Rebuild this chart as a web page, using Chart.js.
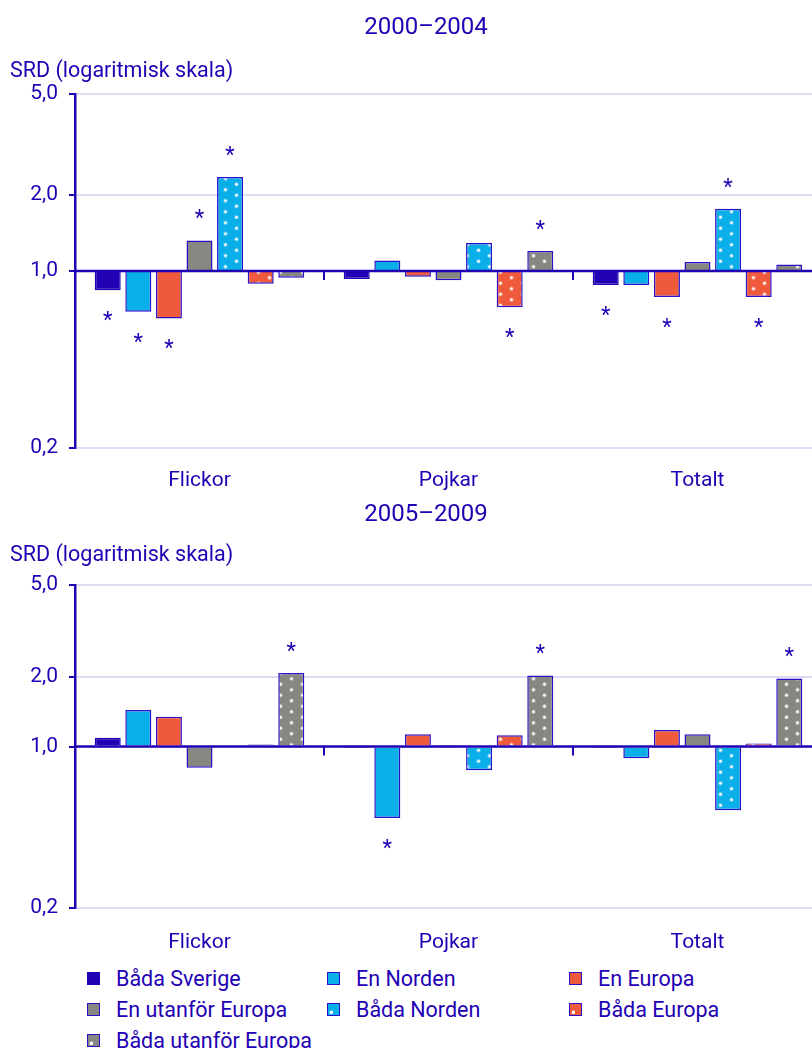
<!DOCTYPE html>
<html>
<head>
<meta charset="utf-8">
<script src="https://cdn.jsdelivr.net/npm/chart.js@4.4.1/dist/chart.umd.min.js"></script>
<style>
  html, body { margin: 0; padding: 0; background: #fff; overflow: hidden; }
  #page { position: relative; width: 812px; height: 1048px; overflow: hidden; font-family: Roboto, sans-serif; color: #2200b4; }
  canvas { position: absolute; left: 0; }
  #c1 { top: 0; }
  #c2 { top: 500px; }
  #legend { position: absolute; left: 87px; top: 963px; display: grid; grid-template-columns: 240px 242px 240px; grid-auto-rows: 31px; }
  .item { display: flex; align-items: center; font-size: 21.5px; white-space: nowrap; }
  .box { width: 11px; height: 11px; border: 1.5px solid #2a10c8; margin-right: 16px; flex: none; }
</style>
</head>
<body>
<div id="page">
  <canvas id="c1" width="852" height="500"></canvas>
  <canvas id="c2" width="852" height="455"></canvas>
  <div id="legend"></div>
</div>
<script>
const categories = ['Flickor', 'Pojkar', 'Totalt'];
const seriesNames = ['Båda Sverige', 'En Norden', 'En Europa', 'En utanför Europa', 'Båda Norden', 'Båda Europa', 'Båda utanför Europa'];
const yTicks = [0.2, 1, 2, 5];

// 2000-2004
const bothSweden1 = [0.84, 0.93, 0.88];
const oneNordic1 = [0.69, 1.10, 0.88];
const oneEurope1 = [0.65, 0.95, 0.79];
const oneOutside1 = [1.32, 0.92, 1.085];
const bothNordic1 = [2.35, 1.29, 1.76];
const bothEurope1 = [0.89, 0.72, 0.79];
const bothOutside1 = [0.94, 1.20, 1.06];
// significant (*), one row per series
const stars1 = [[1,0,1], [1,0,0], [1,0,1], [1,0,0], [1,0,1], [0,1,1], [0,1,0]];

// 2005-2009
const bothSweden2 = [1.09, 0.995, 0.995];
const oneNordic2 = [1.44, 0.49, 0.89];
const oneEurope2 = [1.345, 1.13, 1.18];
const oneOutside2 = [0.81, 1.015, 1.13];
const bothNordic2 = [1.0, 0.79, 0.53];
const bothEurope2 = [1.02, 1.12, 1.03];
const bothOutside2 = [2.08, 2.03, 1.97];
const stars2 = [[0,0,0], [0,1,0], [0,0,0], [0,0,0], [0,0,0], [0,0,0], [1,1,1]];

const DARK = '#2200b4';
const EDGE = '#2a10c8';
const GRID = '#dcdcf2';
const colors = ['#2200b4', '#0aaee8', '#f05a3c', '#878782', '#0aaee8', '#f05a3c', '#878782'];
const dotted = [false, false, false, false, true, true, true];

function dots(color) {
  const c = document.createElement('canvas');
  c.width = 22; c.height = 11;
  const g = c.getContext('2d');
  g.fillStyle = color;
  g.fillRect(0, 0, 22, 11);
  [[5.5, 2.75], [16.5, 8.25]].forEach(([px, py]) => {
    g.fillStyle = 'rgba(255,255,255,0.35)';
    g.beginPath(); g.arc(px, py, 2.2, 0, Math.PI * 2); g.fill();
    g.fillStyle = '#fff';
    g.beginPath(); g.arc(px, py, 1.2, 0, Math.PI * 2); g.fill();
  });
  return g.createPattern(c, 'repeat');
}

const overlay = {
  id: 'overlay',
  afterDatasetsDraw(chart, args, opts) {
    const {ctx, chartArea: a, scales: {x, y}} = chart;
    const y1 = y.getPixelForValue(1);
    ctx.save();
    ctx.strokeStyle = DARK;
    ctx.lineWidth = 2.5;
    ctx.beginPath(); ctx.moveTo(a.left, y1); ctx.lineTo(a.right, y1); ctx.stroke();
    ctx.lineWidth = 2;
    for (let i = 1; i < categories.length; i++) {
      const xm = (x.getPixelForValue(i - 1) + x.getPixelForValue(i)) / 2;
      ctx.beginPath(); ctx.moveTo(xm, y1); ctx.lineTo(xm, y1 + 9); ctx.stroke();
    }
    // asterisks for significant values
    ctx.fillStyle = DARK;
    ctx.font = '22px Roboto';
    ctx.textAlign = 'center';
    ctx.textBaseline = 'alphabetic';
    opts.stars.forEach((row, i) => {
      const meta = chart.getDatasetMeta(i);
      row.forEach((s, j) => {
        if (!s) return;
        const bar = meta.data[j];
        const up = chart.data.datasets[i].data[j] >= 1;
        const cy = up ? bar.y - 26 : bar.y + 26;
        ctx.fillText('*', bar.x, cy + 11);
      });
    });
    ctx.textBaseline = 'middle';
    ctx.font = '24px Roboto';
    ctx.textAlign = 'center';
    ctx.fillText(opts.title, chart.width / 2, opts.titleY);
    ctx.font = '21.5px Roboto';
    ctx.textAlign = 'left';
    ctx.fillText('SRD (logaritmisk skala)', 10, opts.unitY);
    ctx.restore();
  }
};

function makeChart(id, values, stars, title, top, xHeight, labelPad, titleY, unitY) {
  return new Chart(document.getElementById(id), {
    type: 'bar',
    data: {
      labels: categories,
      datasets: values.map((v, i) => ({
        label: seriesNames[i],
        data: v,
        base: 1,
        backgroundColor: dotted[i] ? dots(colors[i]) : colors[i],
        borderColor: i === 0 ? colors[0] : EDGE,
        borderWidth: 1.5,
        categoryPercentage: 0.86,
        barPercentage: 0.85,
      })),
    },
    options: {
      responsive: false,
      animation: false,
      devicePixelRatio: 1,
      layout: { padding: { top: top, right: 30, left: 0, bottom: 0 } },
      plugins: {
        legend: { display: false },
        tooltip: { enabled: false },
        overlay: { stars: stars, title: title, titleY: titleY, unitY: unitY },
      },
      scales: {
        x: {
          grid: { display: false },
          border: { display: false },
          ticks: { color: DARK, font: { family: 'Roboto', size: 21 }, padding: labelPad },
          afterFit: s => { s.height = xHeight; },
        },
        y: {
          type: 'logarithmic',
          min: 0.2,
          max: 5,
          afterBuildTicks: s => { s.ticks = yTicks.map(v => ({ value: v })); },
          afterFit: s => { s.width = 75; },
          ticks: {
            color: DARK,
            font: { family: 'Roboto', size: 21 },
            padding: 11,
            callback: v => v.toFixed(1).replace('.', ','),
          },
          grid: { color: GRID, lineWidth: 2, tickColor: DARK, tickLength: 6 },
          border: { color: DARK, width: 2.5 },
        },
      },
    },
    plugins: [overlay],
  });
}

makeChart('c1',
  [bothSweden1, oneNordic1, oneEurope1, oneOutside1, bothNordic1, bothEurope1, bothOutside1],
  stars1, '2000–2004', 94, 52, 12, 28, 72);
makeChart('c2',
  [bothSweden2, oneNordic2, oneEurope2, oneOutside2, bothNordic2, bothEurope2, bothOutside2],
  stars2, '2005–2009', 85, 47, 14, 15, 56);

// legend
const legend = document.getElementById('legend');
seriesNames.forEach((name, i) => {
  const item = document.createElement('div');
  item.className = 'item';
  const box = document.createElement('span');
  box.className = 'box';
  box.style.background = dotted[i]
    ? 'radial-gradient(circle at 30% 75%, #fff 0 1.5px, transparent 2px), ' + colors[i]
    : colors[i];
  if (i === 0) box.style.borderColor = colors[0];
  item.appendChild(box);
  item.appendChild(document.createTextNode(name));
  legend.appendChild(item);
});
</script>
</body>
</html>
